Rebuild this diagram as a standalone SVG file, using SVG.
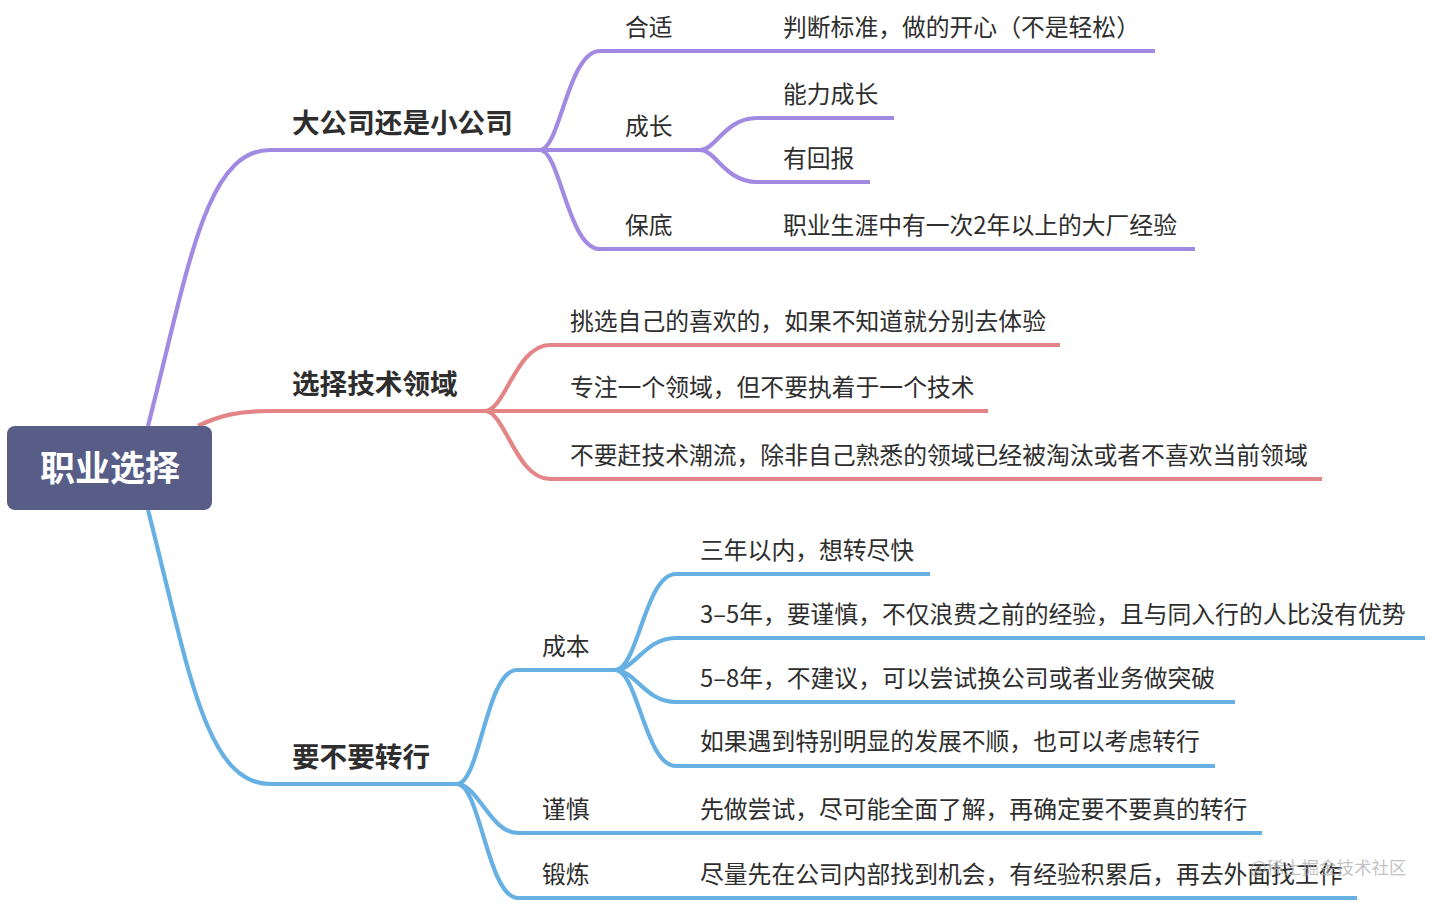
<svg xmlns="http://www.w3.org/2000/svg" width="1432" height="904" viewBox="0 0 1432 904">
<style>
.t{font-family:"PingFang SC","Noto Sans CJK SC","Noto Sans",sans-serif;font-size:23.8px;fill:#2e2e2e}
.m{font-family:"PingFang SC","Noto Sans CJK SC","Noto Sans",sans-serif;font-size:27.6px;font-weight:bold;fill:#2e2e2e}
.r{font-family:"PingFang SC","Noto Sans CJK SC","Noto Sans",sans-serif;font-size:35px;font-weight:bold;fill:#ffffff}
.c{fill:none;stroke-width:4.2;stroke-linecap:butt}
.p{stroke:#a28ae2}
.e{stroke:#e38586}
.b{stroke:#66b0e3}
.w{font-family:"Noto Sans CJK SC",sans-serif;font-size:17.5px;fill:#b0b0b0;opacity:0.75}
</style>
<rect width="1432" height="904" fill="#ffffff"/>
<g id="connectors">
  <path class="c p" d="M148,426 C188,270 205,150 270,150 L540,150"/>
  <path class="c p" d="M540,150 C560,150 568,51 600,51 L1155,51"/>
  <path class="c p" d="M540,150 L700,150"/>
  <path class="c p" d="M700,150 C716,150 725,118 757,118 L894,118"/>
  <path class="c p" d="M700,150 C716,150 725,182 757,182 L870,182"/>
  <path class="c p" d="M540,150 C560,150 568,249 600,249 L1195,249"/>
  <path class="c e" d="M198,426 C220,415 240,411 270,411 L485,411"/>
  <path class="c e" d="M485,411 C505,411 516,345 550,345 L1060,345"/>
  <path class="c e" d="M485,411 L988,411"/>
  <path class="c e" d="M485,411 C505,411 516,479 550,479 L1322,479"/>
  <path class="c b" d="M148,510 C188,666 205,784 270,784 L457,784"/>
  <path class="c b" d="M457,784 C480,784 486,670 517,670 L615,670"/>
  <path class="c b" d="M457,784 C478,784 490,833 518,833 L1262,833"/>
  <path class="c b" d="M457,784 C480,784 488,898 518,898 L1357,898"/>
  <path class="c b" d="M615,670 C638,670 645,574 676,574 L930,574"/>
  <path class="c b" d="M615,670 C635,670 645,638 676,638 L1425,638"/>
  <path class="c b" d="M615,670 C635,670 645,702 676,702 L1235,702"/>
  <path class="c b" d="M615,670 C638,670 645,766 676,766 L1215,766"/>
</g>
<g id="root">
  <rect x="7" y="426" width="205" height="84" rx="8" fill="#575d87"/>
  <text class="r" x="110" y="481" text-anchor="middle">职业选择</text>
</g>
<g id="n-big-small"><text class="m" x="292" y="133">大公司还是小公司</text></g>
<g id="n-fit"><text class="t" x="625" y="35.5">合适</text></g>
<g id="n-fit-leaf"><text class="t" x="783" y="35.5">判断标准，做的开心（不是轻松）</text></g>
<g id="n-grow"><text class="t" x="625" y="134.5">成长</text></g>
<g id="n-grow-1"><text class="t" x="783" y="102.5">能力成长</text></g>
<g id="n-grow-2"><text class="t" x="783" y="166.5">有回报</text></g>
<g id="n-base"><text class="t" x="625" y="233.5">保底</text></g>
<g id="n-base-leaf"><text class="t" x="783" y="233.5">职业生涯中有一次2年以上的大厂经验</text></g>
<g id="n-field"><text class="m" x="292" y="394">选择技术领域</text></g>
<g id="n-field-1"><text class="t" x="570" y="329.5">挑选自己的喜欢的，如果不知道就分别去体验</text></g>
<g id="n-field-2"><text class="t" x="570" y="395.5">专注一个领域，但不要执着于一个技术</text></g>
<g id="n-field-3"><text class="t" x="570" y="463.5">不要赶技术潮流，除非自己熟悉的领域已经被淘汰或者不喜欢当前领域</text></g>
<g id="n-switch"><text class="m" x="292" y="767">要不要转行</text></g>
<g id="n-cost"><text class="t" x="542" y="654.5">成本</text></g>
<g id="n-cost-1"><text class="t" x="700" y="558.5">三年以内，想转尽快</text></g>
<g id="n-cost-2"><text class="t" x="700" y="622.5">3–5年，要谨慎，不仅浪费之前的经验，且与同入行的人比没有优势</text></g>
<g id="n-cost-3"><text class="t" x="700" y="686.5">5–8年，不建议，可以尝试换公司或者业务做突破</text></g>
<g id="n-cost-4"><text class="t" x="700" y="749.5">如果遇到特别明显的发展不顺，也可以考虑转行</text></g>
<g id="n-careful"><text class="t" x="542" y="817.5">谨慎</text></g>
<g id="n-careful-leaf"><text class="t" x="700" y="817.5">先做尝试，尽可能全面了解，再确定要不要真的转行</text></g>
<g id="n-train"><text class="t" x="542" y="882.5">锻炼</text></g>
<g id="n-train-leaf"><text class="t" x="700" y="882.5">尽量先在公司内部找到机会，有经验积累后，再去外面找工作</text></g>
<text class="w" x="1250" y="874">@稀土掘金技术社区</text>
</svg>
